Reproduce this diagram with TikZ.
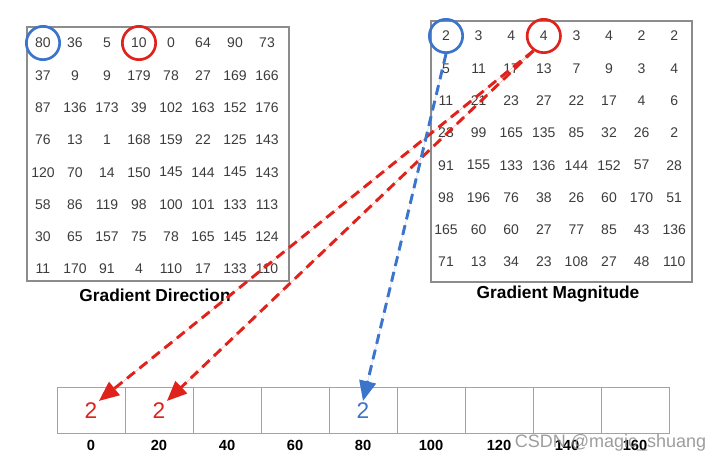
\documentclass[tikz,border=0pt]{standalone}
\usepackage{fontspec}
\setmainfont{Liberation Sans}
\usetikzlibrary{positioning,arrows.meta}
\definecolor{voteRed}{HTML}{E0221C}
\definecolor{voteBlue}{HTML}{3B74CB}
\definecolor{lineGray}{HTML}{8C8C8C}
\definecolor{numGray}{HTML}{3C3C3C}

\begin{document}
\begin{tikzpicture}[x=0.75pt, y=-0.75pt,
    gridBox/.style={draw=lineGray, line width=0.8pt},
    cellText/.style={font=\fontsize{10.5}{12}\selectfont, text=numGray, inner sep=1pt},
    titleText/.style={font=\fontsize{13}{15}\selectfont\bfseries},
    pickCircle/.style={circle, line width=2pt, minimum size=25pt, inner sep=0pt},
    binBox/.style={rectangle, draw=lineGray!80, line width=0.7pt, minimum width=51pt, minimum height=35pt, inner sep=0pt},
    binLabel/.style={font=\fontsize{11}{13}\selectfont\bfseries},
    voteText/.style={font=\fontsize{17}{19}\selectfont, inner sep=1pt},
    voteArrow/.style={-{Triangle[length=15pt, width=12.5pt]}, line width=2.2pt, dash pattern=on 7.5pt off 4.5pt}
]
    \useasboundingbox (0,0) rectangle (724,463);

    % gradient direction
    \draw[gridBox] (27,27) rectangle (289,281);
    \foreach \row [count=\r] in {{80,36,5,10,0,64,90,73},{37,9,9,179,78,27,169,166},{87,136,173,39,102,163,152,176},{76,13,1,168,159,22,125,143},{120,70,14,150,145,144,145,143},{58,86,119,98,100,101,133,113},{30,65,157,75,78,165,145,124},{11,170,91,4,110,17,133,110}}{
        \foreach \v [count=\c] in \row {
            \node[cellText] (d-\r-\c) at ({43+32*(\c-1)}, {43+32.3*(\r-1)}) {\v};
        }
    }
    \node[titleText] (dirTitle) at (155,295) {Gradient Direction};

    % gradient magnitude
    \draw[gridBox] (431,21) rectangle (692,282);
    \foreach \row [count=\r] in {{2,3,4,4,3,4,2,2},{5,11,17,13,7,9,3,4},{11,21,23,27,22,17,4,6},{23,99,165,135,85,32,26,2},{91,155,133,136,144,152,57,28},{98,196,76,38,26,60,170,51},{165,60,60,27,77,85,43,136},{71,13,34,23,108,27,48,110}}{
        \foreach \v [count=\c] in \row {
            \node[cellText] (m-\r-\c) at ({446+32.6*(\c-1)}, {36+32.3*(\r-1)}) {\v};
        }
    }
    \node[titleText] (magTitle) at (558,294) {Gradient Magnitude};

    \node[pickCircle, draw=voteBlue] (dBlue) at (d-1-1) {};
    \node[pickCircle, draw=voteRed] (dRed) at (d-1-4) {};
    \node[pickCircle, draw=voteBlue] (mBlue) at (m-1-1) {};
    \node[pickCircle, draw=voteRed] (mRed) at (m-1-4) {};

    % histogram
    \foreach \lab [count=\i from 0] in {0,20,40,60,80,100,120,140,160}{
        \node[binBox] (bin\i) at ({91+68*\i}, 410.5) {};
        \node[binLabel] (lab\i) at ({91+68*\i}, 445) {\lab};
    }
    \node[voteText, text=voteRed] (v0) at (bin0) {2};
    \node[voteText, text=voteRed] (v1) at (bin1) {2};
    \node[voteText, text=voteBlue] (v4) at (bin4) {2};

    \draw[voteArrow, draw=voteRed, fill=voteRed] (mRed.-125) -- (v0.north east);
    \draw[voteArrow, draw=voteRed, fill=voteRed] (mRed.-125) -- (v1.north east);
    \draw[voteArrow, draw=voteBlue, fill=voteBlue] (mBlue.south) -- (v4.north);

    \node[anchor=east, font=\fontsize{13.5}{15}\selectfont, text=gray!90, text opacity=0.85] (mark) at (711,443) {CSDN @magic\_shuang};
\end{tikzpicture}
\end{document}
